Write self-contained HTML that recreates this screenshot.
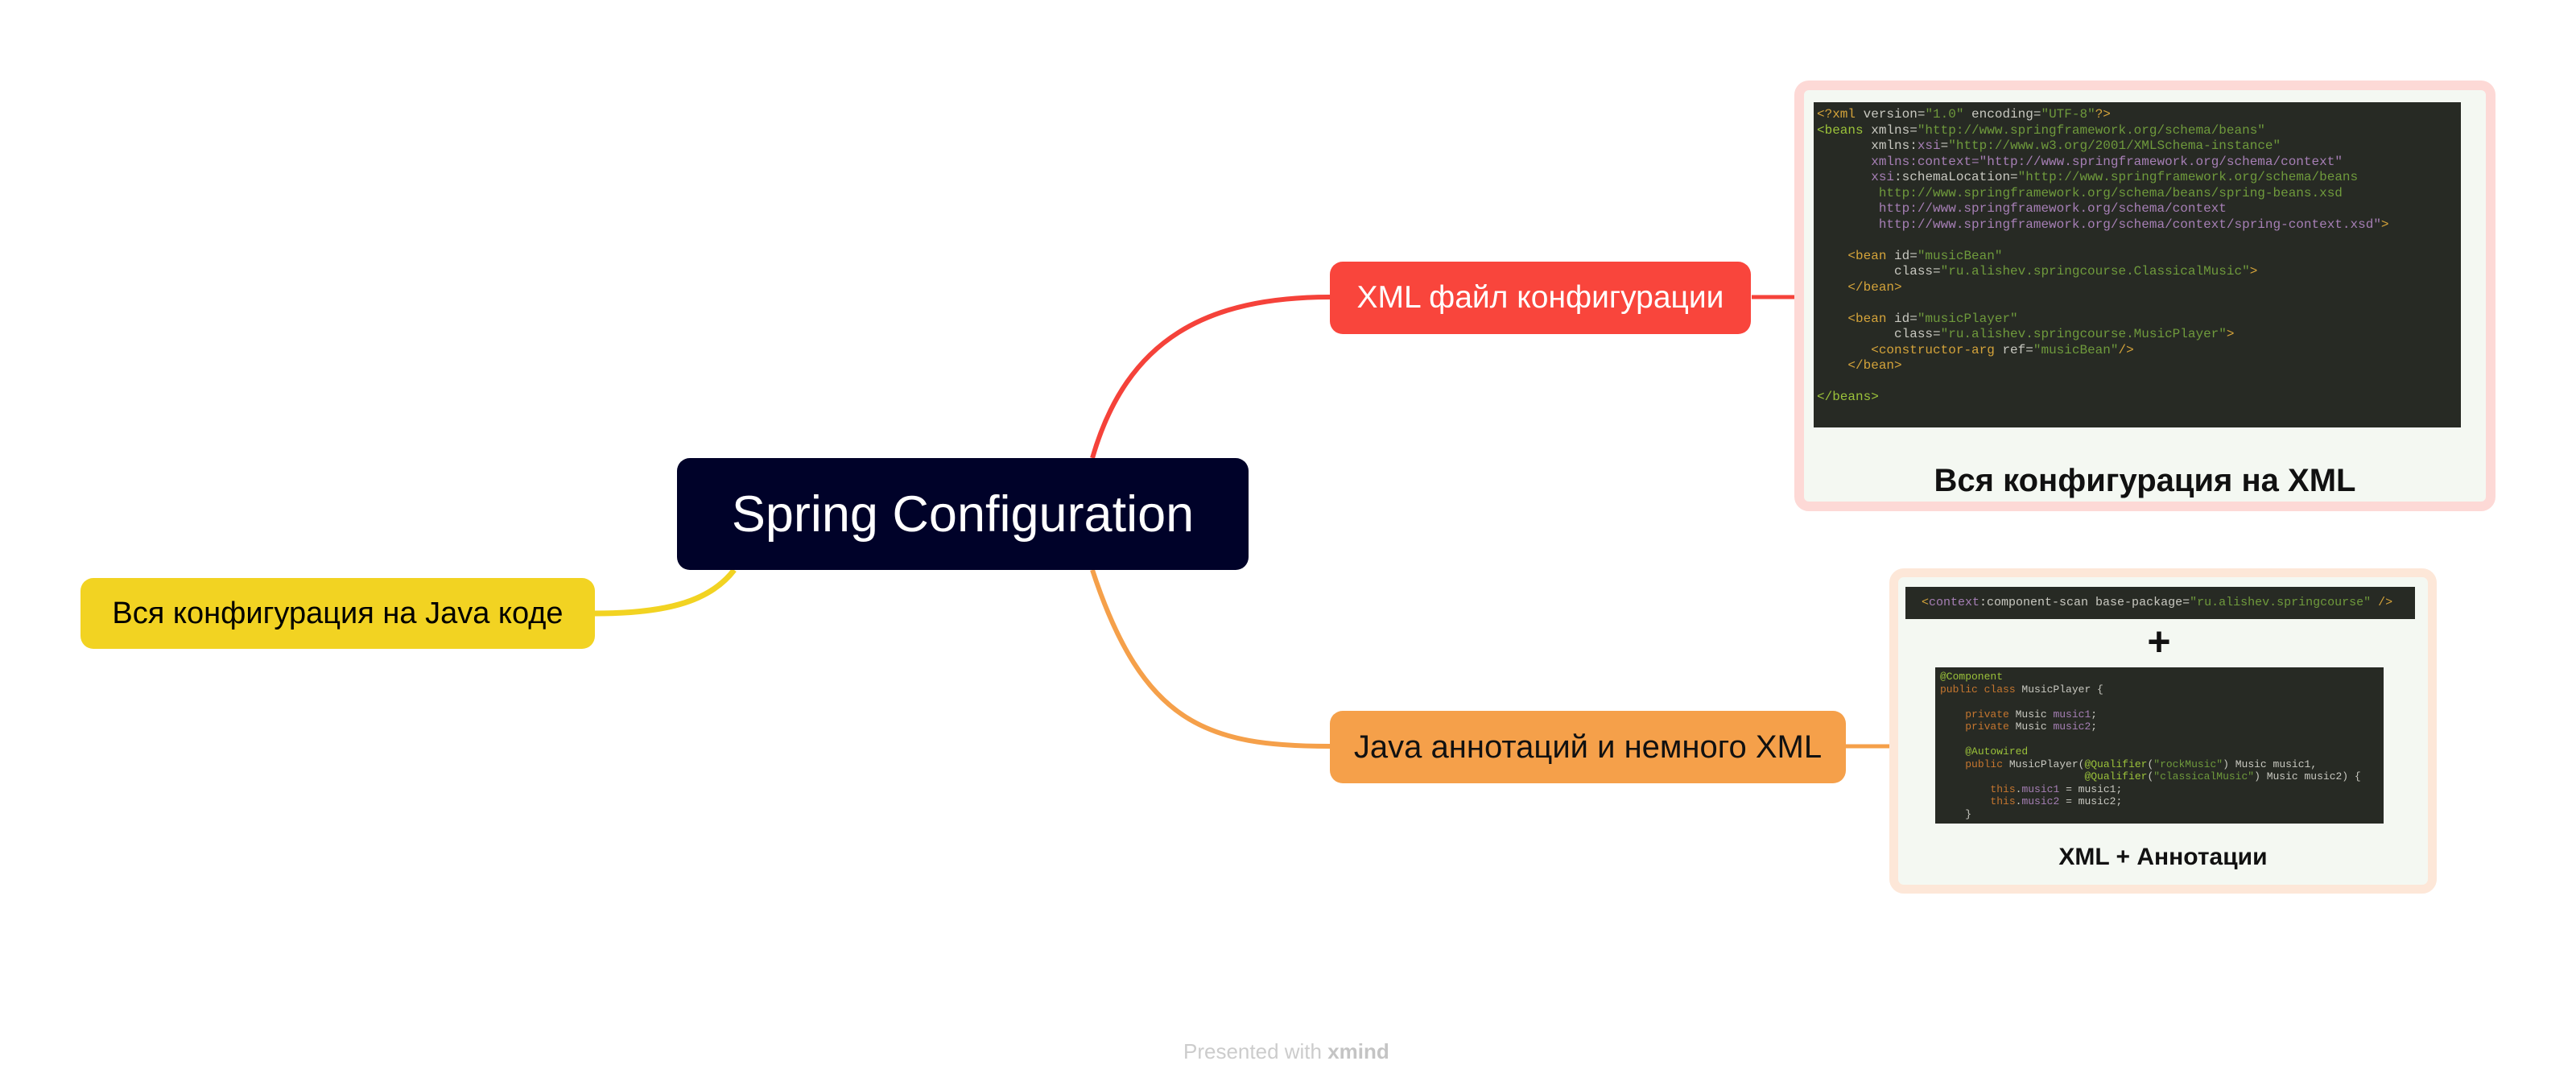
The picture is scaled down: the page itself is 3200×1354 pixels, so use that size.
<!DOCTYPE html>
<html><head><meta charset="utf-8"><style>
html,body{margin:0;padding:0;background:#fff;}
body{width:3200px;height:1354px;position:relative;overflow:hidden;font-family:"Liberation Sans","DejaVu Sans",sans-serif;}
.n{position:absolute;display:flex;align-items:center;justify-content:center;border-radius:16px;white-space:nowrap;}
.code{position:absolute;background:#272a24;font-family:"Liberation Mono",monospace;color:#c8c8c0;white-space:pre;overflow:hidden;}
.k{color:#d4a33a}.s{color:#6f9a3c}.a{color:#a67fb5}.o{color:#c5762f}.g{color:#9bc23a}
</style></head><body>
<svg width="3200" height="1354" style="position:absolute;left:0;top:0">
<path d="M1357,569 C1400,420 1500,369 1653,369" stroke="#f5423a" stroke-width="6" fill="none"/>
<path d="M2176,369 L2229,369" stroke="#f5423a" stroke-width="5" fill="none"/>
<path d="M1357,708 C1420,900 1500,927 1653,927" stroke="#f5a04a" stroke-width="6" fill="none"/>
<path d="M2293,927 L2347,927" stroke="#f5a04a" stroke-width="5" fill="none"/>
<path d="M912,708 C880,750 820,762 739,762" stroke="#f2d322" stroke-width="7" fill="none"/>
</svg>
<div class="n" style="left:841px;top:569px;width:710px;height:139px;background:#000229;color:#fff;font-size:63px;">Spring Configuration</div>
<div class="n" style="left:100px;top:718px;width:639px;height:88px;background:#f2d322;color:#000;font-size:38px;">Вся конфигурация на Java коде</div>
<div class="n" style="left:1652px;top:325px;width:523px;height:90px;background:#f9453c;color:#fff;font-size:39px;">XML файл конфигурации</div>
<div class="n" style="left:1652px;top:883px;width:641px;height:90px;background:#f5a04a;color:#111;font-size:40px;">Java аннотаций и немного XML</div>

<div style="position:absolute;left:2229px;top:100px;width:871px;height:535px;box-sizing:border-box;border:12px solid #fdd9d6;border-radius:18px;background:#f4f8f2;"></div>
<div class="code" style="left:2253px;top:127px;width:804px;height:404px;font-size:16px;line-height:19.5px;padding:6px 0 0 4px;box-sizing:border-box;"><span class="k">&lt;?xml</span> version=<span class="s">"1.0"</span> encoding=<span class="s">"UTF-8"</span><span class="k">?&gt;</span>
<span class="g">&lt;beans</span> xmlns=<span class="s">"http://www.springframework.org/schema/beans"</span>
       xmlns:<span class="a">xsi</span>=<span class="s">"http://www.w3.org/2001/XMLSchema-instance"</span>
       <span class="a">xmlns:context="http://www.springframework.org/schema/context"</span>
       <span class="a">xsi</span>:schemaLocation=<span class="s">"http://www.springframework.org/schema/beans</span>
<span class="s">        http://www.springframework.org/schema/beans/spring-beans.xsd</span>
<span class="a">        http://www.springframework.org/schema/context</span>
<span class="a">        http://www.springframework.org/schema/context/spring-context.xsd"</span><span class="k">&gt;</span>

    <span class="k">&lt;bean</span> id=<span class="s">"musicBean"</span>
          class=<span class="s">"ru.alishev.springcourse.ClassicalMusic"</span><span class="k">&gt;</span>
    <span class="k">&lt;/bean&gt;</span>

    <span class="k">&lt;bean</span> id=<span class="s">"musicPlayer"</span>
          class=<span class="s">"ru.alishev.springcourse.MusicPlayer"</span><span class="k">&gt;</span>
       <span class="k">&lt;constructor-arg</span> ref=<span class="s">"musicBean"</span><span class="k">/&gt;</span>
    <span class="k">&lt;/bean&gt;</span>

<span class="g">&lt;/beans&gt;</span></div>
<div style="position:absolute;left:2229px;top:575px;width:871px;text-align:center;font-size:40px;font-weight:bold;color:#111;">Вся конфигурация на XML</div>

<div style="position:absolute;left:2347px;top:706px;width:680px;height:404px;box-sizing:border-box;border:11px solid #fde7d8;border-radius:18px;background:#f4f8f2;"></div>
<div class="code" style="left:2367px;top:729px;width:633px;height:40px;font-size:15px;line-height:40px;padding-left:20px;box-sizing:border-box;"><span class="k">&lt;</span><span class="a">context</span>:component-scan base-package=<span class="s">"ru.alishev.springcourse"</span> <span class="k">/&gt;</span></div>
<div style="position:absolute;left:2652px;top:770px;width:60px;text-align:center;font-size:50px;font-weight:bold;color:#111;line-height:54px;">+</div>
<div class="code" style="left:2404px;top:829px;width:557px;height:194px;font-size:13px;line-height:15.5px;padding:4px 0 0 6px;box-sizing:border-box;"><span class="g">@Component</span>
<span class="o">public class</span> MusicPlayer {

    <span class="o">private</span> Music <span class="a">music1</span>;
    <span class="o">private</span> Music <span class="a">music2</span>;

    <span class="g">@Autowired</span>
    <span class="o">public</span> MusicPlayer(<span class="g">@Qualifier</span>(<span class="s">"rockMusic"</span>) Music music1,
                       <span class="g">@Qualifier</span>(<span class="s">"classicalMusic"</span>) Music music2) {
        <span class="o">this</span>.<span class="a">music1</span> = music1;
        <span class="o">this</span>.<span class="a">music2</span> = music2;
    }</div>
<div style="position:absolute;left:2347px;top:1048px;width:680px;text-align:center;font-size:30px;font-weight:bold;color:#111;">XML + Аннотации</div>

<div style="position:absolute;left:1470px;top:1291px;font-size:26px;color:#ccc;white-space:nowrap;">Presented with <b style="color:#c4c4c4">xmind</b></div>
</body></html>
